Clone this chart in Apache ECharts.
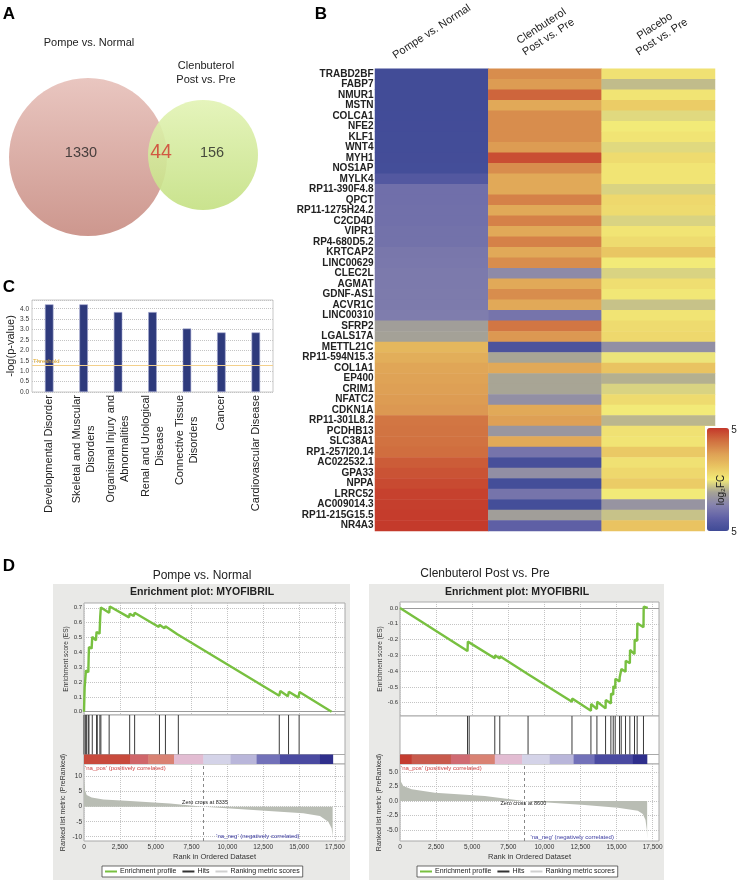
<!DOCTYPE html>
<html><head><meta charset="utf-8">
<script src="https://cdn.jsdelivr.net/npm/echarts@6/dist/echarts.min.js"></script>
<style>html,body{margin:0;padding:0;background:#fff}#c{width:744px;height:883px}</style>
</head><body><div id="c"></div>
<script>
// ================= DATA =================
// Panel A (Venn)
const vennSetNames = ['Pompe vs. Normal', 'Clenbuterol\nPost vs. Pre'];
const vennCounts = [1330, 44, 156]; // Pompe only, overlap, Clenbuterol only

// Panel C
const diseaseCategories = ['Developmental Disorder', 'Skeletal and Muscular\nDisorders', 'Organismal Injury and\nAbnormalities', 'Renal and Urological\nDisease', 'Connective Tissue\nDisorders', 'Cancer', 'Cardiovascular Disease'];
const diseaseLogP = [4.21, 4.21, 3.84, 3.84, 3.05, 2.86, 2.86];
const thresholdLogP = 1.3;

// Panel B (heatmap)
const heatmapColumns = ['Pompe vs. Normal', 'Clenbuterol\nPost vs. Pre', 'Placebo\nPost vs. Pre'];
const genes = ['TRABD2BF','FABP7','NMUR1','MSTN','COLCA1','NFE2','KLF1','WNT4','MYH1','NOS1AP','MYLK4','RP11-390F4.8','QPCT','RP11-1275H24.2','C2CD4D','VIPR1','RP4-680D5.2','KRTCAP2','LINC00629','CLEC2L','AGMAT','GDNF-AS1','ACVR1C','LINC00310','SFRP2','LGALS17A','METTL21C','RP11-594N15.3','COL1A1','EP400','CRIM1','NFATC2','CDKN1A','RP11-301L8.2','PCDHB13','SLC38A1','RP1-257I20.14','AC022532.1','GPA33','NPPA','LRRC52','AC009014.3','RP11-215G15.5','NR4A3'];
const pompeLog2FC = [-4.9,-4.9,-4.9,-4.9,-4.88,-4.86,-4.85,-4.84,-4.82,-4.8,-4.2,-3.2,-3.2,-3.15,-3.15,-3.1,-3.1,-2.9,-2.85,-2.8,-2.8,-2.75,-2.75,-2.7,-1.4,-1.3,1.7,2.0,2.3,2.4,2.5,2.6,2.7,3.6,3.65,3.7,3.8,4.2,4.4,4.6,4.8,4.85,4.9,4.95];
const clenLog2FC = [3.0,2.6,4.0,2.2,3.0,3.0,3.0,2.6,4.5,3.0,2.2,2.2,3.3,2.2,3.3,2.2,3.3,2.2,3.0,-2.2,2.2,3.0,2.2,-3.0,3.6,2.7,-4.5,-1.2,2.2,-1.2,-1.2,-2.0,2.2,2.5,-1.7,2.2,-3.0,-4.7,-2.0,-4.8,-3.0,-4.8,-1.4,-3.8];
const placeboLog2FC = [0.3,-0.8,0.2,1.0,-0.3,0.0,0.2,-0.3,0.5,0.2,0.2,-0.4,0.6,0.5,-0.4,0.2,0.5,1.2,0.0,-0.4,0.4,0.1,-0.7,0.2,0.5,0.6,-2.0,-0.1,1.3,-1.0,-0.4,0.5,0.0,-0.9,0.3,0.2,1.1,0.3,0.6,1.0,0.0,-1.8,-0.7,1.3];
const colorbarRange = [-5, 5];
const colorbarLabels = ['5', '5'];

// Panel D (GSEA)
const rankTicks = [0, 2500, 5000, 7500, 10000, 12500, 15000, 17500];
const esTicksPompe = [0, 0.1, 0.2, 0.3, 0.4, 0.5, 0.6, 0.7];
const esTicksClen = [0, -0.1, -0.2, -0.3, -0.4, -0.5, -0.6];
const metricTicksPompe = [-10, -5, 0, 5, 10];
const metricTicksClen = [-5, -2.5, 0, 2.5, 5];
const esPompe = [[0,0],[46,0.165],[115,0.165],[138,0.278],[300,0.266],[323,0.357],[346,0.436],[531,0.425],[577,0.504],[831,0.481],[877,0.537],[923,0.549],[1085,0.526],[1131,0.639],[1177,0.702],[1754,0.666],[1800,0.709],[3139,0.635],[3185,0.66],[3462,0.644],[3531,0.666],[5216,0.571],[5262,0.585],[5608,0.562],[5678,0.576],[6508,0.522],[6578,0.531],[13617,0.108],[13686,0.14],[14217,0.104],[14286,0.135],[14956,0.095],[15025,0.133],[17264,0]];
const hitsPompe = [0,115,185,300,346,577,877,923,1108,1177,1754,3185,3531,5262,5678,6578,13617,14263,15002];
const metricPompe = [[0,9.5],[70,5.6],[186,3.9],[534,3.1],[1348,2.4],[3207,1.9],[5996,1.1],[8335,0],[11806,-1.1],[15292,-2.2],[16454,-3.1],[17035,-5],[17268,-7.2],[17338,-10]];
const rankBarEdgesPompe = [0,3207,4485,6275,8318,10225,12038,13665,16454,17339];
const zeroCrossPompe = 8335;

const esClen = [[0,0],[4677,-0.273],[4700,-0.213],[6566,-0.318],[6580,-0.300],[6912,-0.320],[6925,-0.306],[8870,-0.42],[8885,-0.41],[11912,-0.594],[11925,-0.573],[13225,-0.651],[13240,-0.608],[13640,-0.64],[13655,-0.594],[14239,-0.636],[14252,-0.583],[14607,-0.604],[14620,-0.541],[14769,-0.55],[14780,-0.494],[14907,-0.51],[14920,-0.448],[15206,-0.465],[15215,-0.44],[15322,-0.446],[15335,-0.387],[15621,-0.404],[15635,-0.334],[15921,-0.35],[15935,-0.266],[16243,-0.292],[16255,-0.199],[16428,-0.209],[16440,-0.097],[16865,-0.122],[16880,0.008],[17160,0]];
const hitsClen = [4677,4792,6566,6912,8870,11912,13225,13640,14239,14607,14769,14907,15206,15322,15621,15921,16243,16428,16865];
const metricClen = [[0,4.8],[69,3.35],[230,2.6],[806,2.03],[2419,1.45],[5875,0.87],[8600,0],[12787,-0.69],[15091,-1.16],[16474,-1.68],[16819,-2.26],[17004,-3.3],[17096,-5],[17119,-6.5]];
const rankBarEdgesClen = [0,806,3525,4838,6566,8456,10368,12027,13478,16128,17096];
const zeroCrossClen = 8600;

// ================= DRAWING =================
const F = '"Liberation Sans", Arial, Helvetica, sans-serif';
const chart = echarts.init(document.getElementById('c'), null, {renderer: 'canvas'});
const grid = [], xAxis = [], yAxis = [], series = [];
function addGrid(g, xa, ya) {
  grid.push(g); const i = grid.length - 1;
  xa.gridIndex = i; ya.gridIndex = i; xAxis.push(xa); yAxis.push(ya); return i;
}
const dotted = {type: 'dotted', color: '#c4c4c4', width: 1};

// ---- Panel A: Venn (hidden pixel-like cartesian) ----
const VENN = [{cx: 88, cy: 157, r: 79}, {cx: 203, cy: 155, r: 55}];
const VENN_LABEL_POS = [[81, 153], [161, 153], [212, 153]];
const gV = addGrid({left: 0, top: 0, width: 260, height: 260},
  {type: 'value', min: 0, max: 260, show: false},
  {type: 'value', min: 0, max: 260, inverse: true, show: false});
series.push({
  type: 'custom', xAxisIndex: gV, yAxisIndex: gV, silent: true, z: 1,
  data: vennSetNames.map((n, i) => [VENN[i].cx, VENN[i].cy, VENN[i].r]),
  renderItem(p, api) {
    const c = api.coord([api.value(0), api.value(1)]);
    const r = api.size([api.value(2), 0])[0];
    if (p.dataIndex === 0) {
      return {type: 'circle', shape: {cx: c[0], cy: c[1], r},
        style: {fill: new echarts.graphic.LinearGradient(0, 0, 0, 1, [{offset: 0, color: '#e9c6c0'}, {offset: 1, color: '#cd978e'}])}};
    }
    return {type: 'circle', shape: {cx: c[0], cy: c[1], r},
      style: {blend: 'multiply', fill: new echarts.graphic.LinearGradient(0, 0, 0, 1, [{offset: 0, color: 'rgba(226,243,180,0.9)'}, {offset: 1, color: 'rgba(196,224,130,0.9)'}])}};
  }
});
series.push({
  type: 'scatter', xAxisIndex: gV, yAxisIndex: gV, silent: true, symbolSize: 1, itemStyle: {color: 'rgba(0,0,0,0)'}, z: 3,
  data: vennCounts.map((v, i) => ({value: VENN_LABEL_POS[i], name: String(v),
    label: {show: true, position: 'inside', formatter: '{b}', fontFamily: F, color: i === 1 ? '#d0352b' : '#222', fontSize: i === 1 ? 19.5 : 14.5}}))
});

// ---- Panel C: bar chart ----
const gC = addGrid({left: 32, top: 300, width: 241, height: 92, show: true, backgroundColor: '#fff', borderColor: '#c8c8c8', borderWidth: 1},
  {type: 'category', data: diseaseCategories, axisLine: {show: false}, axisTick: {show: false},
    axisLabel: {interval: 0, rotate: 90, margin: 3, fontSize: 11, color: '#222', fontFamily: F, lineHeight: 14,
      formatter: v => v.split('\n').map(s => '{c|' + s + '}').join('\n'),
      rich: {c: {align: 'center', fontSize: 11, lineHeight: 14, color: '#222', fontFamily: F}}}},
  {type: 'value', min: 0, max: 4.42, interval: 0.5, axisLine: {show: false}, axisTick: {show: false},
    axisLabel: {fontSize: 6.5, color: '#333', margin: 3, showMaxLabel: false, formatter: v => v.toFixed(1)},
    splitLine: {show: true, lineStyle: dotted},
    name: '-log(p-value)', nameLocation: 'middle', nameGap: 14.5, nameTextStyle: {fontSize: 11, color: '#222', fontFamily: F}});
series.push({
  type: 'bar', xAxisIndex: gC, yAxisIndex: gC, data: diseaseLogP, barWidth: 8.5, silent: true,
  itemStyle: {color: '#2e3a7c', borderColor: '#9ea3cc', borderWidth: 0.6},
  markLine: {silent: true, symbol: 'none', data: [{yAxis: thresholdLogP}],
    lineStyle: {color: '#f3d08c', width: 1, type: 'solid'},
    label: {show: true, position: 'insideStartTop', formatter: 'Threshold', color: '#e3ac2c', fontSize: 6, distance: [1, 1], fontFamily: F}}
});

// ---- Panel B: heatmap ----
const gH = addGrid({left: 375, top: 65.5, width: 340, height: 465.5},
  {type: 'category', position: 'top', data: heatmapColumns, axisLine: {show: false}, axisTick: {show: false}, splitLine: {show: false},
    axisLabel: {interval: 0, rotate: -33, align: 'center', verticalAlign: 'middle', margin: 37, fontSize: 11, lineHeight: 13, color: '#222', fontFamily: F}},
  {type: 'category', data: genes, inverse: true, axisLine: {show: false}, axisTick: {show: false}, splitLine: {show: false},
    axisLabel: {interval: 0, fontSize: 10, fontWeight: 'bold', color: '#222', margin: 1.5, fontFamily: F}});
const heatData = [];
[pompeLog2FC, clenLog2FC, placeboLog2FC].forEach((col, ci) => col.forEach((v, ri) => heatData.push([ci, ri, v])));
const HEAT_IDX = series.length;
series.push({type: 'heatmap', xAxisIndex: gH, yAxisIndex: gH, data: heatData, silent: true, itemStyle: {borderWidth: 0}, emphasis: {disabled: true}});

// ---- Panel D: GSEA ----
const BAR_COLORS_P = ['#c84a3c', '#d0666a', '#d98273', '#e2bcd2', '#d4d3e8', '#b9b6da', '#7271b9', '#4a4aa1', '#2f2f8c'];
const BAR_COLORS_C = ['#c43c30', '#c85a4c', '#d06a72', '#d98273', '#e2bcd2', '#d4d3e8', '#b9b6da', '#7271b9', '#4a4aa1', '#2f2f8c'];
function gsea(L) {
  const W = L.width, left = L.left;
  const rankAxis = extra => Object.assign({type: 'value', min: 0, max: L.xMax, axisLine: {show: false},
    axisTick: {show: false, customValues: rankTicks}, axisLabel: {show: false}, splitLine: {show: false}}, extra || {});
  const frame = {show: true, backgroundColor: '#fff', borderColor: '#a9a9a9', borderWidth: 1};
  // ES plot
  const gi = addGrid(Object.assign({left, top: L.esTop, width: W, height: L.esBottom - L.esTop}, frame),
    rankAxis({splitLine: {show: true, lineStyle: dotted}}),
    {type: 'value', min: L.esMin, max: L.esMax, axisLine: {show: false}, axisTick: {show: false, customValues: L.esTicks},
      axisLabel: {customValues: L.esTicks, formatter: v => v.toFixed(1), fontSize: 6, margin: 2, color: '#333'},
      splitLine: {show: true, lineStyle: dotted},
      name: 'Enrichment score (ES)', nameLocation: 'middle', nameGap: 13.5, nameTextStyle: {fontSize: 6.5, color: '#333', fontFamily: F}});
  series.push({type: 'line', name: 'Enrichment profile', xAxisIndex: gi, yAxisIndex: gi, data: L.es, symbol: 'none', showSymbol: false, silent: true,
    lineStyle: {color: '#78c040', width: 2.4}, itemStyle: {color: '#78c040'}, z: 5,
    markLine: {silent: true, symbol: 'none', label: {show: false}, lineStyle: {color: '#9a9a9a', width: 1, type: 'solid'}, data: [{yAxis: 0}]}});
  // Hits
  const hi = addGrid(Object.assign({left, top: L.esBottom, width: W, height: L.barTop - L.esBottom}, frame),
    rankAxis(), {type: 'value', min: 0, max: 1, show: false});
  series.push({type: 'custom', name: 'Hits', xAxisIndex: hi, yAxisIndex: hi, silent: true, itemStyle: {color: '#333'},
    data: L.hits.map(h => [h]),
    renderItem(p, api) {
      const a = api.coord([api.value(0), 0]), b = api.coord([api.value(0), 1]);
      return {type: 'line', shape: {x1: a[0], y1: a[1], x2: b[0], y2: b[1]}, style: {stroke: '#3a3a3a', lineWidth: 1}};
    }});
  // Ranked list colour bar
  const bi = addGrid(Object.assign({left, top: L.barTop, width: W, height: L.metricTop - L.barTop}, frame),
    rankAxis(), {type: 'value', min: 0, max: 1, show: false});
  series.push({type: 'custom', xAxisIndex: bi, yAxisIndex: bi, silent: true,
    data: L.barEdges.slice(0, -1).map((e, i) => [e, L.barEdges[i + 1], i]),
    renderItem(p, api) {
      const a = api.coord([api.value(0), 1]), b = api.coord([api.value(1), 0]);
      return {type: 'rect', shape: {x: a[0], y: a[1], width: b[0] - a[0] + 0.5, height: b[1] - a[1]}, style: {fill: L.barColors[api.value(2)]}};
    }});
  // Ranked metric
  const mi = addGrid(Object.assign({left, top: L.metricTop, width: W, height: L.metricBottom - L.metricTop}, frame),
    rankAxis({splitLine: {show: true, lineStyle: dotted},
      axisLabel: {show: true, customValues: rankTicks, formatter: v => v.toLocaleString('en-US'), fontSize: 6.5, margin: 3, color: '#333'},
      name: 'Rank in Ordered Dataset', nameLocation: 'middle', nameGap: 12, nameTextStyle: {fontSize: 7.5, color: '#333', fontFamily: F}}),
    {type: 'value', min: L.mMin, max: L.mMax, axisLine: {show: false}, axisTick: {show: false, customValues: L.mTicks},
      axisLabel: {customValues: L.mTicks, formatter: L.mFmt, fontSize: 6.5, margin: 2, color: '#333'},
      splitLine: {show: true, lineStyle: dotted},
      name: 'Ranked list metric (PreRanked)', nameLocation: 'middle', nameGap: L.mNameGap, nameTextStyle: {fontSize: 7, color: '#333', fontFamily: F}});
  series.push({type: 'line', name: 'Ranking metric scores', xAxisIndex: mi, yAxisIndex: mi, data: L.metric, symbol: 'none', showSymbol: false, silent: true,
    lineStyle: {width: 0, color: '#b9bdb4'}, itemStyle: {color: '#b9bdb4'}, areaStyle: {color: '#b9bdb4', opacity: 1},
    markLine: {silent: true, symbol: 'none', label: {show: false}, lineStyle: {color: '#888', width: 1, type: [3, 3]}, data: [{xAxis: L.zeroCross}]},
    markPoint: {symbol: 'circle', symbolSize: 0.01, silent: true, itemStyle: {color: 'rgba(0,0,0,0)'},
      label: {show: true, fontSize: 6, fontFamily: F},
      data: [
        {coord: L.posAt, label: {formatter: "'na_pos' (positively correlated)", position: 'right', distance: 1, color: '#cc3f3f'}},
        {coord: L.zeroAt, label: {formatter: 'Zero cross at ' + L.zeroCross, position: 'inside', color: '#222', fontSize: 5.5}},
        {coord: L.negAt, label: {formatter: "'na_neg' (negatively correlated)", position: 'inside', color: '#3a3aa0'}}
      ]}});
}
gsea({left: 84, width: 261, esTop: 603, esBottom: 715, barTop: 754.5, metricTop: 764, metricBottom: 841, xMax: 18200,
  esMin: -0.022, esMax: 0.732, esTicks: esTicksPompe, es: esPompe, hits: hitsPompe,
  barEdges: rankBarEdgesPompe, barColors: BAR_COLORS_P, metric: metricPompe,
  mMin: -11.43, mMax: 14.23, mTicks: metricTicksPompe, mFmt: v => String(v), mNameGap: 17.5,
  zeroCross: zeroCrossPompe, posAt: [0, 12.9], zeroAt: [8440, 1.3], negAt: [12130, -10]});
gsea({left: 400, width: 259, esTop: 602, esBottom: 716, barTop: 754.5, metricTop: 764, metricBottom: 841, xMax: 17940,
  esMin: -0.684, esMax: 0.038, esTicks: esTicksClen, es: esClen, hits: hitsClen,
  barEdges: rankBarEdgesClen, barColors: BAR_COLORS_C, metric: metricClen,
  mMin: -6.94, mMax: 6.42, mTicks: metricTicksClen, mFmt: v => v.toFixed(1), mNameGap: 17.5,
  zeroCross: zeroCrossClen, posAt: [0, 5.73], zeroAt: [8542, -0.35], negAt: [11930, -6.25]});

// ---- static text / background ----
const T = (text, x, y, size, extra) => Object.assign({type: 'text', x, y, z: 50, silent: true,
  style: Object.assign({text, fontSize: size, fontFamily: F, fill: '#111', align: 'center', verticalAlign: 'middle'}, (extra && extra.style) || {})},
  extra && extra.rotation !== undefined ? {rotation: extra.rotation} : {});
const graphic = [
  {type: 'rect', z: -10, silent: true, shape: {x: 53, y: 584, width: 297, height: 296}, style: {fill: '#e9e9e7'}},
  {type: 'rect', z: -10, silent: true, shape: {x: 369, y: 584, width: 295, height: 296}, style: {fill: '#e9e9e7'}},
  T('A', 9, 14, 17, {style: {fontWeight: 'bold', fill: '#000'}}),
  T('B', 321, 14, 17, {style: {fontWeight: 'bold', fill: '#000'}}),
  T('C', 9, 287, 17, {style: {fontWeight: 'bold', fill: '#000'}}),
  T('D', 9, 566, 17, {style: {fontWeight: 'bold', fill: '#000'}}),
  T(vennSetNames[0], 89, 43, 11, {style: {fill: '#222'}}),
  T(vennSetNames[1], 206, 73, 11, {style: {fill: '#222', lineHeight: 14}}),
  T('Pompe vs. Normal', 202, 576, 12, {style: {fill: '#222'}}),
  T('Enrichment plot: MYOFIBRIL', 202, 592, 10.5, {style: {fill: '#222', fontWeight: 'bold'}}),
  T('Clenbuterol Post vs. Pre', 485, 574, 12, {style: {fill: '#222'}}),
  T('Enrichment plot: MYOFIBRIL', 517, 592, 10.5, {style: {fill: '#222', fontWeight: 'bold'}}),
  T(colorbarLabels[0], 734, 430, 10, {style: {fill: '#222'}}),
  T(colorbarLabels[1], 734, 532, 10, {style: {fill: '#222'}}),
  T('log\u2082FC', 721, 490, 10, {style: {fill: '#222'}, rotation: Math.PI / 2})
];

const legendBase = {top: 866, orient: 'horizontal', selectedMode: false, icon: 'rect', itemWidth: 12, itemHeight: 2, itemGap: 6,
  padding: [2, 3], backgroundColor: '#fff', borderColor: '#444', borderWidth: 0.8,
  textStyle: {fontSize: 7, color: '#222', fontFamily: F, padding: [0, 0, 0, -2]},
  data: [{name: 'Enrichment profile', itemStyle: {color: '#78c040'}}, {name: 'Hits', itemStyle: {color: '#333'}}, {name: 'Ranking metric scores', itemStyle: {color: '#d0d0d0'}}]};

chart.setOption({
  animation: false,
  backgroundColor: '#fff',
  textStyle: {fontFamily: F},
  grid, xAxis, yAxis, series, graphic,
  legend: [Object.assign({left: 102}, legendBase), Object.assign({left: 417}, legendBase)],
  visualMap: [{type: 'continuous', seriesIndex: HEAT_IDX, dimension: 2, min: colorbarRange[0], max: colorbarRange[1],
    calculable: false, left: 705, top: 426, itemWidth: 22, itemHeight: 103, padding: 2, backgroundColor: '#fff',
    textStyle: {fontSize: 0}, text: null,
    inRange: {color: ['#3f4a96', '#5f60a6', '#8582ae', '#a5a296', '#f2ea78', '#e9c462', '#dea055', '#d07040', '#c4382a']}}]
});
</script></body></html>
